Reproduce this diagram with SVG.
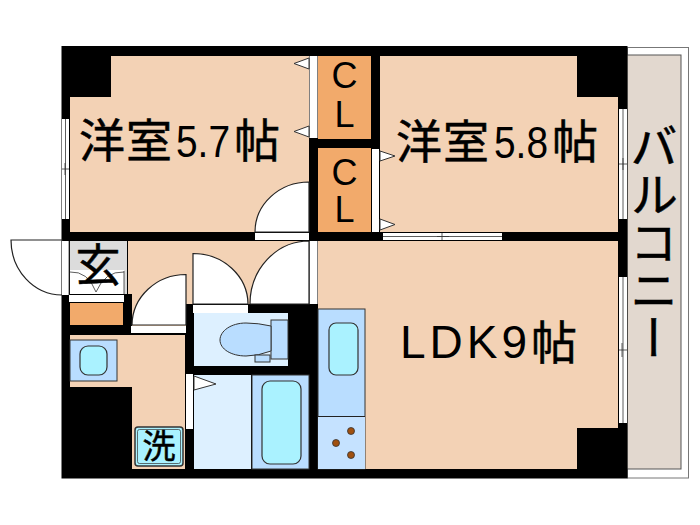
<svg xmlns="http://www.w3.org/2000/svg" width="700" height="525" viewBox="0 0 700 525">
<style>
.f{fill:#f3d2b5}
.o{fill:#f2aa6b}
.w{fill:#fff}
.wl{fill:#fff;stroke:#333;stroke-width:1}
.d{fill:#fff;stroke:#222;stroke-width:1.2}
.b{fill:#b9ddff;stroke:#333;stroke-width:1}
.l{fill:#ddf0ff}
.c{fill:#aaf2ff;stroke:#333;stroke-width:1.2}
.t{font-family:"Noto Sans CJK JP","Noto Sans",sans-serif;fill:#000;stroke:#000;stroke-width:.5}
.a{font-family:"Liberation Sans",Arial,sans-serif;fill:#000}
.m{stroke:#333;stroke-width:.8;fill:none}
</style>
<rect width="700" height="525" fill="#fff"/>
<g id="balcony">
<rect x="627.500" y="47.500" width="61" height="430.500" fill="#fff" stroke="#777" stroke-width="1"/>
<rect x="627" y="55" width="54" height="414" fill="#e2d8cf" stroke="#555" stroke-width="1"/>
</g>
<rect id="walls" x="61.500" y="46" width="566" height="432.500" fill="#000"/>
<g id="rooms">
<polygon class="f" points="111,56 309,56 309,232 70,232 70,97 111,97"/>
<polygon class="f" points="380,56 577,56 577,97 618,97 618,232 380,232"/>
<polygon class="f" points="318,241 618,241 618,428 577,428 577,469 318,469"/>
<polygon class="f" points="128,241 309,241 309,304 186,304 186,326 132,326 132,294 128,294"/>
<polygon class="f" points="70,335 185,335 185,469 132,469 132,387 70,387"/>
<rect class="o" x="318" y="56" width="53" height="83"/>
<rect class="o" x="318" y="148" width="53" height="84"/>
<rect class="o" x="70" y="303" width="53" height="22"/>
</g>
<g id="fittings">
<rect class="w" x="309.500" y="56" width="8" height="82"/>
<rect class="w" x="372" y="149" width="7" height="83"/>
<polygon class="wl" points="309,58 294,63.500 309,69"/>
<polygon class="wl" points="309,126 294,131.500 309,137"/>
<polygon class="wl" points="380,151 395,156 380,161"/>
<polygon class="wl" points="380,219 395,224.500 380,230"/>
<rect class="w" x="383" y="233" width="119" height="7"/>
<path class="m" d="M383 236.500H502M442 233V240M437 236.500H449"/>
<rect class="w" x="62" y="119" width="7" height="100"/>
<path class="m" d="M65.500 119V219M62 169H69M65 163V175"/>
<rect class="w" x="619" y="109" width="8" height="110"/>
<path class="m" d="M623 109V219M619 164H627M623 158V170"/>
<rect class="w" x="619" y="277" width="8" height="146"/>
<path class="m" d="M623 277V423M619 350H627M622 343V357"/>
<rect class="w" x="255" y="233" width="54" height="7"/>
<path class="d" d="M255 232A54 50 0 0 1 309 182V232Z"/>
<rect class="w" x="309.500" y="241" width="8" height="63"/>
<path class="d" d="M250 304A59 63 0 0 1 309 241V304Z"/>
<path class="d" d="M193 304V253.500A55 51 0 0 1 248 304Z"/>
<rect class="w" x="193" y="305" width="55" height="8"/>
<path class="d" d="M132 325A54 51 0 0 1 186 274.500V325Z"/>
<rect class="w" x="131" y="326" width="55" height="7"/>
<path class="d" d="M62 240H11A51 55 0 0 0 62 295Z"/>
<rect class="w" x="62" y="241" width="7" height="54"/>
<path class="m" d="M69 241V295"/>
<rect x="70" y="241" width="57" height="53" fill="#dcdcdc"/>
<rect class="w" x="70" y="270" width="54" height="24"/>
<path class="m" d="M70 272Q88 271 96 292Q105 271 124 272M124 271V294"/>
<rect class="w" x="69" y="295" width="55" height="7"/>
<rect class="b" x="70" y="340" width="47" height="41"/>
<rect class="c" x="80" y="346" width="27" height="29" rx="8"/>
<rect class="w" x="186" y="374" width="7" height="55"/>
</g>
<g id="wet">
<rect class="l" x="194" y="313" width="94" height="53"/>
<rect class="b" x="271" y="320" width="17" height="39"/>
<path class="b" d="M271 326Q258 323 246 323C231 323 220 331 220 340C220 349 231 356 246 356Q258 356 271 351Z"/>
<rect class="b" x="255" y="355" width="15" height="7"/>
<rect class="l" x="194" y="375" width="57" height="94"/>
<polygon class="wl" points="194,376 216,384 194,390"/>
<rect class="b" x="252" y="375" width="57" height="94"/>
<rect class="c" x="262" y="381" width="39" height="83" rx="8"/>
<rect class="b" x="318" y="309" width="47" height="160"/>
<rect class="c" x="329" y="323" width="29" height="52" rx="7"/>
<path d="M318 416.500H365" stroke="#222" stroke-width="1"/>
<rect x="318" y="417" width="47" height="52" fill="#c5e2ff"/>
<g fill="#a0500f" stroke="#333" stroke-width=".8"><circle cx="351" cy="431" r="3.500"/><circle cx="336" cy="443" r="3.500"/><circle cx="351" cy="455" r="3.500"/></g>
<rect x="135" y="427" width="48" height="39" rx="3" fill="#aaf2ff" stroke="#333" stroke-width="1.500"/>
<rect x="137.500" y="429.500" width="43" height="34" rx="2" fill="none" stroke="#333" stroke-width=".7"/>
</g>
<g id="labels">
<text class="t" x="79" y="157" font-size="46" letter-spacing="1">洋室</text>
<text class="a" x="176" y="157" font-size="44" textLength="54" lengthAdjust="spacingAndGlyphs">5.7</text>
<text class="t" x="234" y="157" font-size="46">帖</text>
<text class="t" x="396" y="158" font-size="46" letter-spacing="1">洋室</text>
<text class="a" x="494" y="158" font-size="44" textLength="54" lengthAdjust="spacingAndGlyphs">5.8</text>
<text class="t" x="552" y="158" font-size="46">帖</text>
<text class="a" x="400" y="358" font-size="46" letter-spacing="4">LDK9</text>
<text class="t" x="531" y="359" font-size="46">帖</text>
<text class="a" x="344.500" y="88" font-size="36" text-anchor="middle">C</text>
<text class="a" x="344.500" y="127" font-size="36" text-anchor="middle">L</text>
<text class="a" x="344.500" y="185" font-size="36" text-anchor="middle">C</text>
<text class="a" x="344.500" y="222" font-size="36" text-anchor="middle">L</text>
<text class="t" x="98" y="282" font-size="45" text-anchor="middle" stroke-width="1">玄</text>
<text class="t" x="159" y="458" font-size="33" text-anchor="middle" stroke-width=".2">洗</text>
<text class="t" x="654" y="122" font-size="48" style="writing-mode:vertical-rl">バルコニー</text>
</g>
</svg>
